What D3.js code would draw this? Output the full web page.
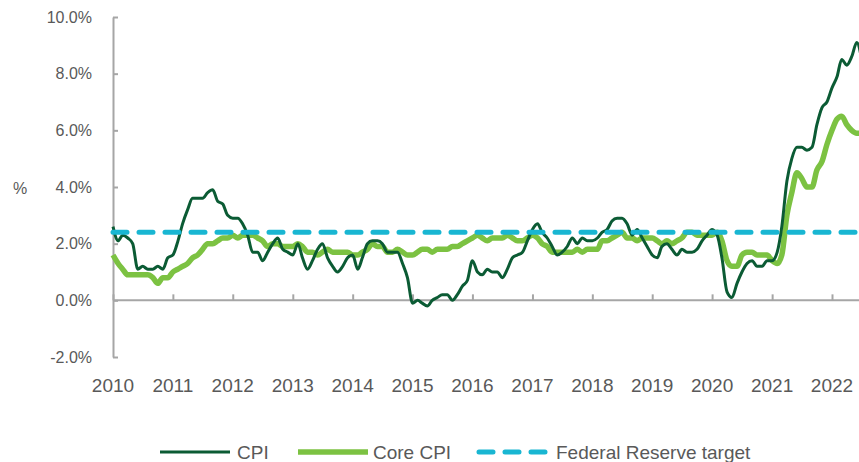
<!doctype html>
<html>
<head>
<style>
    body { margin: 0; background: #fff; }
    text { font-family: "Liberation Sans", Arial, sans-serif; fill: #595959; }
</style>
</head>
<body>
    <div class="container"></div>

    <script src="https://d3js.org/d3.v7.min.js"></script>

    <script>
        // monthly, Jan 2010 .. Jul 2022, year-over-year %
        const cpi = [
            2.6, 2.1, 2.3, 2.2, 2.0, 1.1, 1.2, 1.1, 1.1, 1.2, 1.1, 1.5,
            1.6, 2.1, 2.7, 3.2, 3.6, 3.6, 3.6, 3.8, 3.9, 3.5, 3.4, 3.0,
            2.9, 2.9, 2.7, 2.3, 1.7, 1.7, 1.4, 1.7, 2.0, 2.2, 1.8, 1.7,
            1.6, 2.0, 1.5, 1.1, 1.4, 1.8, 2.0, 1.5, 1.2, 1.0, 1.2, 1.5,
            1.6, 1.1, 1.5, 2.0, 2.1, 2.1, 2.0, 1.7, 1.7, 1.7, 1.3, 0.8,
            -0.1, 0.0, -0.1, -0.2, 0.0, 0.1, 0.2, 0.2, 0.0, 0.2, 0.5, 0.7,
            1.4, 1.0, 0.9, 1.1, 1.0, 1.0, 0.8, 1.1, 1.5, 1.6, 1.7, 2.1,
            2.5, 2.7, 2.4, 2.2, 1.9, 1.6, 1.7, 1.9, 2.2, 2.0, 2.2, 2.1,
            2.1, 2.2, 2.4, 2.5, 2.8, 2.9, 2.9, 2.7, 2.3, 2.5, 2.2, 1.9,
            1.6, 1.5, 1.9, 2.0, 1.8, 1.6, 1.8, 1.7, 1.7, 1.8, 2.1, 2.3,
            2.5, 2.3, 1.5, 0.3, 0.1, 0.6, 1.0, 1.3, 1.4, 1.2, 1.2, 1.4,
            1.4, 1.7, 2.6, 4.2, 5.0, 5.4, 5.4, 5.3, 5.4, 6.2, 6.8, 7.0,
            7.5, 7.9, 8.5, 8.3, 8.6, 9.1, 8.5
        ];
        const coreCpi = [
            1.6, 1.3, 1.1, 0.9, 0.9, 0.9, 0.9, 0.9, 0.8, 0.6, 0.8, 0.8,
            1.0, 1.1, 1.2, 1.3, 1.5, 1.6, 1.8, 2.0, 2.0, 2.1, 2.2, 2.2,
            2.3, 2.2, 2.3, 2.3, 2.3, 2.2, 2.1, 1.9, 2.0, 2.0, 1.9, 1.9,
            1.9, 2.0, 1.9, 1.7, 1.7, 1.6, 1.7, 1.8, 1.7, 1.7, 1.7, 1.7,
            1.6, 1.6, 1.7, 1.8, 2.0, 1.9, 1.9, 1.7, 1.7, 1.8, 1.7, 1.6,
            1.6, 1.7, 1.8, 1.8, 1.7, 1.8, 1.8, 1.8, 1.9, 1.9, 2.0, 2.1,
            2.2, 2.3, 2.2, 2.1, 2.2, 2.2, 2.2, 2.3, 2.2, 2.1, 2.1, 2.2,
            2.3, 2.2, 2.0, 1.9, 1.7, 1.7, 1.7, 1.7, 1.7, 1.8, 1.7, 1.8,
            1.8, 1.8, 2.1, 2.1, 2.2, 2.3, 2.4, 2.2, 2.2, 2.1, 2.2, 2.2,
            2.2, 2.1, 2.0, 2.1, 2.0, 2.1, 2.2, 2.4, 2.4, 2.3, 2.3, 2.3,
            2.3, 2.4, 2.1, 1.4, 1.2, 1.2, 1.6, 1.7, 1.7, 1.6, 1.6, 1.6,
            1.4, 1.3, 1.6, 3.0, 3.8, 4.5, 4.3, 4.0, 4.0, 4.6, 4.9, 5.5,
            6.0, 6.4, 6.5, 6.2, 6.0, 5.9, 5.9
        ];
        const fedTarget = 2.4;
        const years = [2010, 2011, 2012, 2013, 2014, 2015, 2016, 2017, 2018, 2019, 2020, 2021, 2022];
        const yTicks = [-2, 0, 2, 4, 6, 8, 10];
        const seriesNames = ['CPI', 'Core CPI', 'Federal Reserve target'];

        const width = 859, height = 462;
        const darkGreen = '#0b5b34', lightGreen = '#7cc242', cyan = '#19b6d2', axisGrey = '#a6a6a6';

        const months = cpi.map((_, i) => new Date(2010, i, 1));

        const x = d3.scaleTime()
            .domain([new Date(2010, 0, 1), new Date(2022, 0, 1)])
            .range([113, 832]);
        const y = d3.scaleLinear().domain([-2, 10]).range([357, 17]);

        const svg = d3.select('.container').append('svg')
            .attr('width', width).attr('height', height);

        // y axis, ticks pointing inward
        const yAxis = svg.append('g')
            .attr('transform', `translate(${x.range()[0]},0)`)
            .call(d3.axisLeft(y).tickValues(yTicks).tickSizeInner(-5).tickSizeOuter(0).tickPadding(21)
                .tickFormat(d => d.toFixed(1) + '%'));
        yAxis.select('.domain').attr('stroke', axisGrey).attr('stroke-width', 2);
        yAxis.selectAll('.tick line').attr('stroke', axisGrey).attr('stroke-width', 2);
        yAxis.selectAll('.tick text').attr('font-size', 16).style('font-family', null);
        yAxis.attr('font-family', null);

        // x axis at zero line, ticks pointing up
        const xAxis = svg.append('g')
            .attr('transform', `translate(0,${y(0)})`)
            .call(d3.axisBottom(x).tickValues(years.map(yr => new Date(yr, 0, 1)))
                .tickSizeInner(-6).tickSizeOuter(0).tickFormat(''));
        xAxis.select('.domain').attr('stroke', axisGrey).attr('stroke-width', 2).attr('d', `M${x.range()[0]},0H${width + 10}`);
        xAxis.selectAll('.tick line').attr('stroke', axisGrey).attr('stroke-width', 2);

        svg.append('g').selectAll('text').data(years).enter().append('text')
            .attr('x', d => x(new Date(d, 0, 1)))
            .attr('y', 392)
            .attr('text-anchor', 'middle')
            .attr('font-size', 19)
            .text(d => d);

        svg.append('text')
            .attr('x', 20).attr('y', 194)
            .attr('text-anchor', 'middle')
            .attr('font-size', 16)
            .text('%');

        const line = d3.line()
            .x((d, i) => x(months[i]))
            .y(d => y(d))
            .curve(d3.curveMonotoneX);

        svg.append('path')
            .attr('d', line(coreCpi))
            .attr('fill', 'none')
            .attr('stroke', lightGreen)
            .attr('stroke-width', 5.5)
            .attr('stroke-linejoin', 'round');

        svg.append('path')
            .attr('d', line(cpi))
            .attr('fill', 'none')
            .attr('stroke', darkGreen)
            .attr('stroke-width', 3)
            .attr('stroke-linejoin', 'round');

        svg.append('line')
            .attr('x1', x.range()[0]).attr('x2', width + 10)
            .attr('y1', y(fedTarget)).attr('y2', y(fedTarget))
            .attr('stroke', cyan)
            .attr('stroke-width', 5)
            .attr('stroke-dasharray', '14,12')
            .attr('stroke-linecap', 'round');

        // legend
        const legend = [
            { name: seriesNames[0], x0: 160, x1: 230, tx: 237, color: darkGreen, w: 3, dash: null },
            { name: seriesNames[1], x0: 298, x1: 368, tx: 373, color: lightGreen, w: 5.5, dash: null },
            { name: seriesNames[2], x0: 479, x1: 548, tx: 556, color: cyan, w: 5, dash: '14,12' }
        ];
        const lg = svg.append('g').selectAll('g').data(legend).enter().append('g');
        lg.append('line')
            .attr('x1', d => d.x0).attr('x2', d => d.x1)
            .attr('y1', 452).attr('y2', 452)
            .attr('stroke', d => d.color)
            .attr('stroke-width', d => d.w)
            .attr('stroke-dasharray', d => d.dash)
            .attr('stroke-linecap', d => d.dash ? 'round' : 'butt');
        lg.append('text')
            .attr('x', d => d.tx).attr('y', 459)
            .attr('font-size', 19)
            .text(d => d.name);
    </script>
</body>
</html>
